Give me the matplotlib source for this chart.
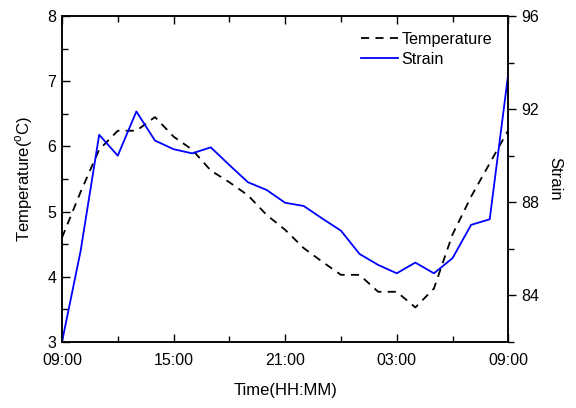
import matplotlib
matplotlib.use("Agg")
import matplotlib.pyplot as plt
import matplotlib.dates as mdates
import pandas as pd

plt.rcParams["font.family"] = ["Liberation Sans", "DejaVu Sans"]
plt.rcParams["mathtext.fontset"] = "custom"
plt.rcParams["mathtext.rm"] = "Liberation Sans"

# hourly readings, 09:00 to 09:00 next day
start_time = "2020-01-01 09:00"
n_readings = 25
temperature = [4.6, 5.3, 5.95, 6.24, 6.24, 6.45, 6.15, 5.95, 5.63, 5.45,
               5.25, 4.95, 4.72, 4.44, 4.23, 4.03, 4.03, 3.77, 3.77, 3.53,
               3.82, 4.65, 5.23, 5.74, 6.25]
strain = [82.0, 85.9, 90.9, 90.0, 91.9, 90.65, 90.28, 90.1, 90.36, 89.6,
          88.86, 88.53, 87.98, 87.84, 87.3, 86.78, 85.78, 85.31, 84.95, 85.41,
          84.95, 85.6, 87.03, 87.27, 93.54]

times = pd.date_range(start_time, periods=n_readings, freq="h")

fig = plt.figure(figsize=(5.76, 4.08), dpi=100)
ax = fig.add_axes([0.1076, 0.1618, 0.7749, 0.799])
ax2 = ax.twinx()

l1, = ax.plot(times, temperature, color="black", lw=1.3,
              linestyle=(0, (4.5, 3.5)), label="Temperature")
l2, = ax2.plot(times, strain, color="#0000ff", lw=1.3, label="Strain")

ax.set_xlim(times[0], times[-1])
ax.set_ylim(3, 8)
ax2.set_ylim(82, 96)

ax.xaxis.set_major_locator(mdates.HourLocator(byhour=[3, 9, 15, 21]))
ax.xaxis.set_minor_locator(mdates.HourLocator(byhour=[0, 6, 12, 18]))
ax.xaxis.set_major_formatter(mdates.DateFormatter("%H:%M"))
ax.yaxis.set_major_locator(plt.MultipleLocator(1))
ax.yaxis.set_minor_locator(plt.MultipleLocator(0.5))
ax2.yaxis.set_major_locator(plt.MultipleLocator(4))
ax2.yaxis.set_minor_locator(plt.MultipleLocator(2))

ax.tick_params(which="both", direction="in", top=True, right=False,
               labelsize=11.5, width=1.0)
ax.tick_params(axis="x", pad=8)
ax.tick_params(axis="y", pad=4)
ax.tick_params(which="major", length=6)
ax.tick_params(which="minor", length=4)
ax2.tick_params(which="both", direction="out", labelsize=11.5, width=1.0, pad=3)
ax2.tick_params(which="major", length=6)
ax2.tick_params(which="minor", length=4)

for a in (ax, ax2):
    for sp in a.spines.values():
        sp.set_linewidth(1.1)

ax.set_xlabel("Time(HH:MM)", fontsize=12, labelpad=11)
ax.set_ylabel("Temperature($^{\\rm o}$C)", fontsize=12, labelpad=9)
ax2.set_ylabel("Strain", fontsize=12, rotation=270, labelpad=17)

ax.legend(handles=[l1, l2], loc="upper right", frameon=False, fontsize=11.6,
          handlelength=2.3, handletextpad=0.25, labelspacing=0.3,
          borderaxespad=0.6)

fig.savefig("out.png", dpi=100)
